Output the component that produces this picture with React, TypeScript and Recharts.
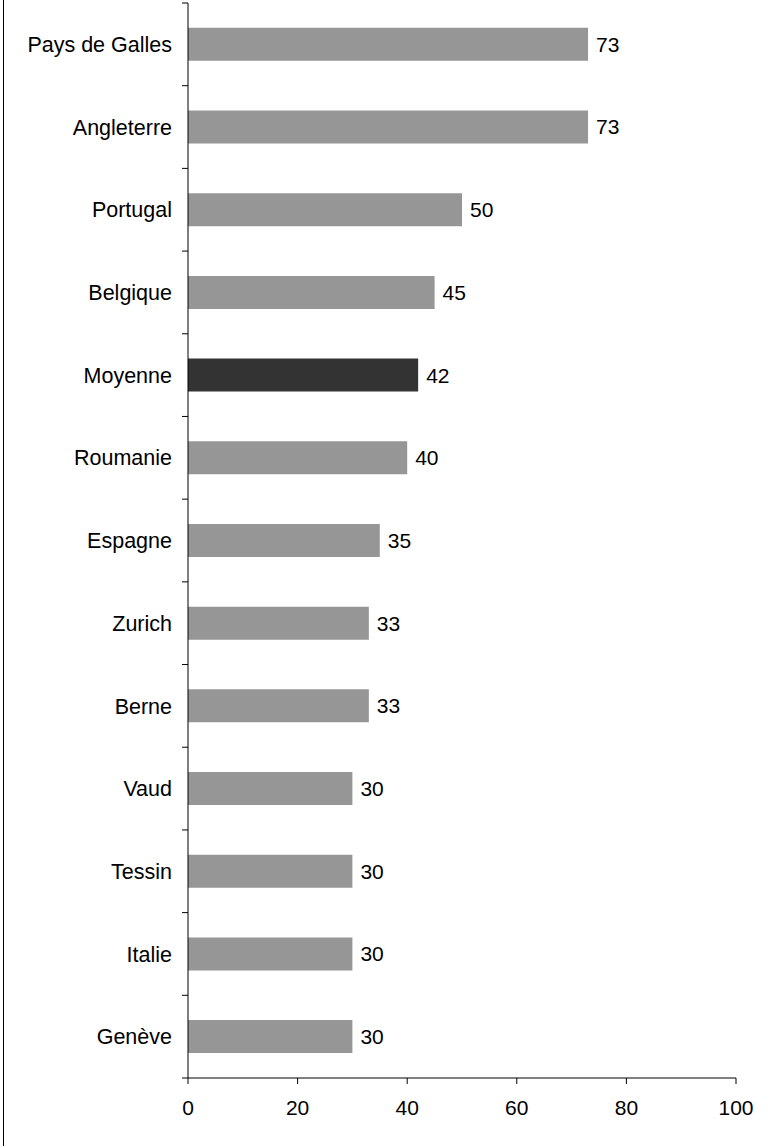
import React from "react"
import { BarChart, Bar, XAxis, YAxis, Cell, LabelList } from "recharts"

const countries = [
  "Pays de Galles",
  "Angleterre",
  "Portugal",
  "Belgique",
  "Moyenne",
  "Roumanie",
  "Espagne",
  "Zurich",
  "Berne",
  "Vaud",
  "Tessin",
  "Italie",
  "Genève",
]

const values = [73, 73, 50, 45, 42, 40, 35, 33, 33, 30, 30, 30, 30]

const xTicks = [0, 20, 40, 60, 80, 100]

const data = countries.map((name, i) => ({ name, value: values[i] }))

const FONT = "'Liberation Sans', Arial, Helvetica, sans-serif"
const TICK = 6
const GAP = 10

// category label, plus the small tick marks that sit between categories
const CategoryTick = (props: any) => {
  const { x, y, payload, index, visibleTicksCount } = props
  const half = payload.offset || 0
  const axisX = x + TICK + GAP
  const isLast = index === visibleTicksCount - 1
  return (
    <g>
      <line x1={axisX - TICK} x2={axisX} y1={y - half} y2={y - half} stroke="#000" />
      {isLast && <line x1={axisX - TICK} x2={axisX} y1={y + half} y2={y + half} stroke="#000" />}
      <text x={x} y={y} dy="0.355em" textAnchor="end" fill="#000" fontSize={21.5}>
        {payload.value}
      </text>
    </g>
  )
}

export default function App() {
  return (
    <div style={{ position: "absolute", left: 0, top: 0, width: 776, height: 1146, background: "#fff" }}>
      <div style={{ position: "absolute", left: 3, top: 0, width: 1, height: 1146, background: "#000" }} />
      <BarChart
        width={776}
        height={1146}
        data={data}
        layout="vertical"
        margin={{ top: 3, right: 40, bottom: 0, left: 8 }}
        barCategoryGap="30%"
        style={{ fontFamily: FONT }}
      >
        <XAxis
          type="number"
          dataKey="value"
          domain={[0, 100]}
          ticks={xTicks}
          height={68}
          stroke="#000"
          tickSize={6}
          tickMargin={16}
          tick={{ fill: "#000", fontSize: 21 }}
        />
        <YAxis
          type="category"
          dataKey="name"
          width={180}
          stroke="#000"
          tickLine={false}
          tickSize={TICK}
          tickMargin={GAP}
          interval={0}
          tick={<CategoryTick />}
        />
        <Bar dataKey="value" isAnimationActive={false}>
          {data.map((d, i) => (
            <Cell key={`cell-${i}`} fill={d.name === "Moyenne" ? "#333333" : "#969696"} />
          ))}
          <LabelList dataKey="value" position="right" offset={8} fill="#000" fontSize={21} />
        </Bar>
      </BarChart>
    </div>
  )
}
